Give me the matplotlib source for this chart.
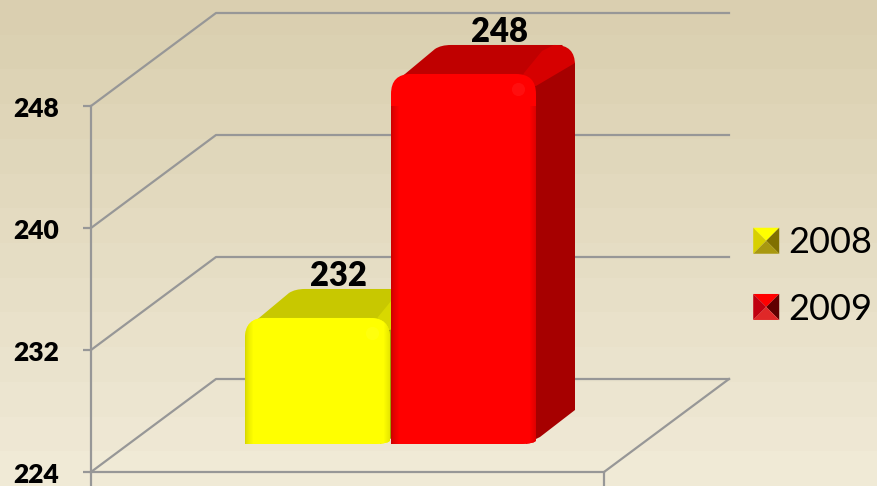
import numpy as np
import matplotlib.pyplot as plt
from matplotlib.colors import to_rgb
from matplotlib.legend_handler import HandlerBase
from matplotlib.patches import Patch, PathPatch, Polygon
from matplotlib.path import Path
from matplotlib.transforms import ScaledTranslation

years = ['2008', '2009']
values = [232, 248]
y_ticks = [224, 232, 240, 248]
grid_values = [224, 232, 240, 248]

front_colors = ['#ffff00', '#ff0000']
edge_colors = ['#d8d800', '#cc0000']
top_colors = ['#c8c800', '#c00000']
corner_colors = ['#d8d800', '#d60000']
side_colors = ['#a0a000', '#a60000']
pyramid_colors = [['#ffff00', '#d8d000', '#807000', '#a89810'],
                  ['#ff0000', '#c00010', '#600000', '#e02828']]

plt.rcParams['font.family'] = ['Lato', 'DejaVu Sans']

fig = plt.figure(figsize=(8.77, 4.86), dpi=100)

bg = fig.add_axes([0, 0, 1, 1])
bg.axis('off')
ramp = np.linspace(0, 1, 14).reshape(-1, 1, 1)
c0 = np.array(to_rgb('#dacfb0'))
c1 = np.array(to_rgb('#f0ead6'))
bg.imshow(c0 + (c1 - c0) * ramp, aspect='auto')

ax = fig.add_axes([91 / 877, 14 / 486, 513 / 877, 366 / 486])
ax.patch.set_alpha(0)
ax.set_xlim(0, 513)
ax.set_ylim(224, 248)
ky = 366 / 24

gray = '#979797'
for s in ['top', 'right']:
    ax.spines[s].set_visible(False)
for s in ['left', 'bottom']:
    ax.spines[s].set_color(gray)
    ax.spines[s].set_linewidth(1.6)
ax.set_yticks(y_ticks)
ax.set_yticklabels([str(v) for v in y_ticks], fontsize=19, fontweight='heavy')
ax.set_xticks([0, 513])
ax.set_xticklabels(['', ''])
ax.tick_params(axis='y', length=6, width=1.6, color=gray, pad=17)
ax.tick_params(axis='x', length=10, width=1.6, color=gray, direction='out')
shift = ScaledTranslation(0, -1.5 / 100, fig.dpi_scale_trans)
for lab in ax.get_yticklabels():
    lab.set_transform(lab.get_transform() + shift)

# 3d wall and floor
wall_dx = 125
wall_dy = 93 / ky
for v in grid_values:
    ax.plot([0, wall_dx, 513 + wall_dx], [v, v + wall_dy, v + wall_dy],
            color=gray, lw=1.6, clip_on=False, zorder=1)
ax.plot([513, 513 + wall_dx], [224, 224 + wall_dy], color=gray, lw=1.6, clip_on=False, zorder=1)

bar_lefts = [154, 300]
bar_width = 145
bar_base = 224 + 28 / ky
top_lift = 2.1
dx = 39
dy = 29 / ky
rx = 20
ry = 20 / ky


def add_path(verts, codes, color, z):
    p = PathPatch(Path(verts, codes), facecolor=color, edgecolor='none', clip_on=False, zorder=z)
    ax.add_patch(p)
    return p


def draw_bar(i, left, value):
    x0, x1 = left, left + bar_width
    top = value + top_lift
    z = 3 + i * 2
    M, L, C, Z = Path.MOVETO, Path.LINETO, Path.CURVE3, Path.CLOSEPOLY

    # top face
    add_path([(x0 + 8, top - 5 / ky), (x0 + 44, top + dy - 4 / ky), (x0 + 50, top + dy),
              (x0 + 60, top + dy), (x1 + dx - 12, top + dy), (x1 - 10, top - 6 / ky), (x0 + 8, top - 5 / ky)],
             [M, L, C, C, L, L, Z], top_colors[i], z)
    # lighter corner
    add_path([(x1 - 12, top + 1 / ky), (x1 + 6, top + 23 / ky), (x1 + 18, top + dy),
              (x1 + dx - 20, top + dy), (x1 + dx, top + dy), (x1 + dx, top + dy - 20 / ky),
              (x1 + dx, top + dy - 24 / ky), (x1, top - 18 / ky), (x1 - 25, top - 25 / ky),
              (x1 - 12, top + 1 / ky)],
             [M, L, L, L, C, C, L, L, L, Z], corner_colors[i], z)
    # right side
    add_path([(x1 - 10, bar_base), (x1 + 4, bar_base + 7 / ky), (x1 + dx, bar_base + 34 / ky),
              (x1 + dx, top + dy - 18 / ky), (x1, top - 12 / ky), (x1 - 10, top - 12 / ky), (x1 - 10, bar_base)],
             [M, L, L, L, L, L, Z], side_colors[i], z)

    # front with rounded corners
    verts = [(x0, bar_base), (x0, top - ry), (x0, top), (x0 + rx, top),
             (x1 - rx, top), (x1, top), (x1, top - ry),
             (x1, bar_base + 4 / ky), (x1, bar_base), (x1 - 18, bar_base),
             (x0 + 4, bar_base), (x0, bar_base)]
    codes = [M, L, C, C, L, C, C, L, C, C, L, Z]
    front = add_path(verts, codes, front_colors[i], z + 1)

    # side shading of the front, clipped to the rounded shape
    fade = np.ones(bar_width)
    fade[:9] = np.linspace(0, 1, 9) ** 0.7
    fade[-7:] = np.linspace(1, 0.4, 7)
    fc = np.array(to_rgb(front_colors[i]))
    ec = np.array(to_rgb(edge_colors[i]))
    shade = (ec + (fc - ec) * fade[:, None])[None, :, :]
    im = ax.imshow(shade, extent=[x0, x1, bar_base, top], aspect='auto', zorder=z + 1.1)
    im.set_clip_path(front)

    ax.scatter([x1 - 18], [top - 15 / ky], s=90, color='white', alpha=0.06, linewidths=0,
               clip_on=False, zorder=z + 1.2)


for i, v in enumerate(values):
    draw_bar(i, bar_lefts[i], v)
ax.set_xlim(0, 513)
ax.set_ylim(224, 248)

# value labels
ax.text(bar_lefts[0] + 93, values[0] + 3.8, str(values[0]), fontsize=23.5, fontweight='heavy',
        ha='center', va='bottom', clip_on=False, zorder=9)
ax.text(bar_lefts[1] + 109, values[1] + 3.83, str(values[1]), fontsize=23.5, fontweight='heavy',
        ha='center', va='bottom', clip_on=False, zorder=9)


class PyramidHandler(HandlerBase):
    def __init__(self, colors):
        super().__init__()
        self.colors = colors

    def create_artists(self, legend, orig_handle, xd, yd, w, h, fontsize, trans):
        x0, y0 = -xd, -yd + (h - w) / 2
        c = (x0 + w / 2, y0 + w / 2)
        a, b, d, e = (x0, y0 + w), (x0 + w, y0 + w), (x0 + w, y0), (x0, y0)
        sides = [(a, b), (e, a), (b, d), (d, e)]
        return [Polygon([p, q, c], closed=True, facecolor=col, edgecolor='none', transform=trans)
                for (p, q), col in zip(sides, self.colors)]


handles = [Patch(label=y) for y in years]
fig.legend(handles, years, loc='center left', bbox_to_anchor=(746 / 877, 1 - 276 / 486),
           fontsize=26, frameon=False, labelspacing=0.92, handlelength=0.72,
           handletextpad=0.25, borderpad=0.2, borderaxespad=0,
           handler_map={handles[0]: PyramidHandler(pyramid_colors[0]),
                        handles[1]: PyramidHandler(pyramid_colors[1])})

plt.savefig('out.png', dpi=100)
